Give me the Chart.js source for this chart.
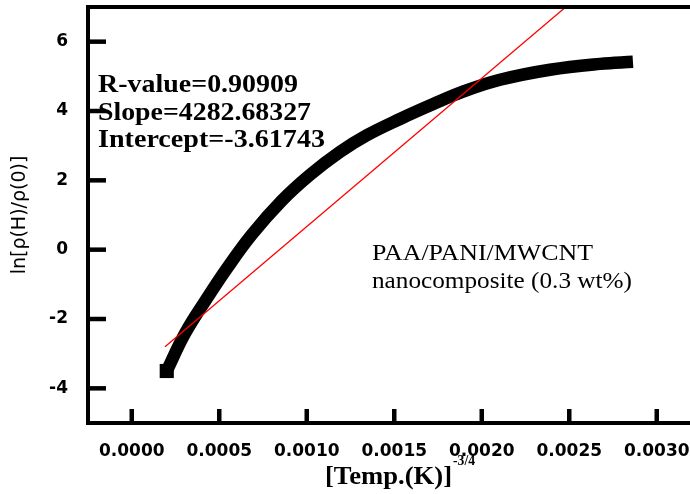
<!DOCTYPE html>
<html><head><meta charset="utf-8">
<style>html,body{margin:0;padding:0;background:#fff;overflow:hidden}</style>
<script src="https://cdn.jsdelivr.net/npm/chart.js@4.4.0/dist/chart.umd.min.js"></script>
</head><body>
<canvas id="c" width="690" height="494"></canvas>
<script>
// measured curve: ln[rho(H)/rho(0)] vs T^-3/4
const curveX = [0.000200, 0.000304, 0.000424, 0.000544, 0.000687, 0.000859, 0.001019, 0.001190, 0.001343, 0.001533, 0.001723, 0.001900, 0.002104, 0.002390, 0.002676, 0.002864];
const curveY = [-3.50, -2.42, -1.45, -0.54, 0.44, 1.42, 2.16, 2.82, 3.30, 3.77, 4.20, 4.57, 4.90, 5.19, 5.36, 5.42];
// linear fit line (end points)
const fitX = [0.00019, 0.00248];
const fitY = [-2.80, 7.00];
const xTicks = [0, 0.0005, 0.0010, 0.0015, 0.0020, 0.0025, 0.0030];
const xTickLabels = ['0.0000', '0.0005', '0.0010', '0.0015', '0.0020', '0.0025', '0.0030'];
const yTicks = [-4, -2, 0, 2, 4, 6];
const yTickLabels = ['-4', '-2', '0', '2', '4', '6'];
const fitStats = ['R-value=0.90909', 'Slope=4282.68327', 'Intercept=-3.61743'];
const sampleLabel = ['PAA/PANI/MWCNT', 'nanocomposite (0.3 wt%)'];
const xTitle = '[Temp.(K)]';
const xTitleSup = '-3/4';
const yTitle = 'ln[\u03C1(H)/\u03C1(0)]';

function fitText(ctx, s, x, yb, font, w) {
  ctx.font = font;
  const m = ctx.measureText(s).width;
  ctx.save();
  ctx.translate(x, yb);
  ctx.scale(w / m, 1);
  ctx.textAlign = 'left';
  ctx.textBaseline = 'alphabetic';
  ctx.fillStyle = '#000';
  ctx.fillText(s, 0, 0);
  ctx.restore();
}

const decor = {
  id: 'decor',
  afterDraw(chart) {
    const { ctx, chartArea: a, scales: { x, y } } = chart;
    ctx.save();
    ctx.strokeStyle = '#000';
    ctx.lineCap = 'butt';
    ctx.lineWidth = 4;
    ctx.beginPath(); ctx.moveTo(a.left - 2, a.top); ctx.lineTo(chart.width, a.top); ctx.stroke();
    ctx.lineWidth = 4.5;
    x.ticks.forEach(t => {
      const px = x.getPixelForValue(t.value);
      ctx.beginPath(); ctx.moveTo(px, a.bottom); ctx.lineTo(px, a.bottom - 14); ctx.stroke();
    });
    y.ticks.forEach(t => {
      const py = y.getPixelForValue(t.value);
      ctx.beginPath(); ctx.moveTo(a.left, py); ctx.lineTo(a.left + 18, py); ctx.stroke();
    });
    const bs = 'bold 25px "Liberation Serif"';
    fitText(ctx, fitStats[0], 98, 92, bs, 200);
    fitText(ctx, fitStats[1], 98, 119.5, bs, 213);
    fitText(ctx, fitStats[2], 98, 147, bs, 227);
    const rs = '23px "Liberation Serif"';
    fitText(ctx, sampleLabel[0], 372, 260, rs, 221);
    fitText(ctx, sampleLabel[1], 372, 288, rs, 260);
    fitText(ctx, xTitle, 325, 484, bs, 127);
    fitText(ctx, xTitleSup, 453, 465, 'bold 15px "Liberation Serif"', 22);
    ctx.restore();
  }
};

new Chart(document.getElementById('c'), {
  type: 'scatter',
  data: {
    datasets: [
      {
        label: 'fit',
        data: fitX.map((v, i) => ({ x: v, y: fitY[i] })),
        showLine: true,
        borderColor: '#ff0000',
        borderWidth: 1.3,
        pointRadius: 0,
        order: 0
      },
      {
        label: 'data',
        data: curveX.map((v, i) => ({ x: v, y: curveY[i] })),
        showLine: true,
        borderColor: '#000',
        backgroundColor: '#000',
        borderWidth: 12.5,
        borderCapStyle: 'butt',
        borderJoinStyle: 'round',
        tension: 0.4,
        pointStyle: 'rect',
        pointRadius: c => c.dataIndex === 0 ? 10 : 0,
        pointBorderWidth: 0,
        order: 1
      }
    ]
  },
  options: {
    responsive: false,
    devicePixelRatio: 1,
    animation: false,
    layout: { autoPadding: false, padding: { top: 7, right: 0, left: 0, bottom: 0 } },
    plugins: { legend: { display: false }, tooltip: { enabled: false } },
    scales: {
      x: {
        type: 'linear',
        min: -0.00025,
        max: 0.00319,
        afterBuildTicks: s => { s.ticks = xTicks.map(v => ({ value: v })); },
        afterFit: s => { s.height = 71; s.paddingLeft = 0; s.paddingRight = 0; },
        grid: { display: false, drawTicks: false },
        border: { display: true, width: 4, color: '#000' },
        ticks: {
          padding: 18,
          color: '#000',
          maxRotation: 0,
          autoSkip: false,
          font: { family: 'DejaVu Sans', weight: 'bold', size: 17 },
          callback: v => { const i = xTicks.findIndex(t => Math.abs(t - v) < 1e-9); return i >= 0 ? xTickLabels[i] : ''; }
        }
      },
      y: {
        type: 'linear',
        min: -5,
        max: 7,
        afterBuildTicks: s => { s.ticks = yTicks.map(v => ({ value: v })); },
        afterFit: s => { s.width = 88; s.paddingTop = 0; s.paddingBottom = 0; },
        grid: { display: false, drawTicks: false },
        border: { display: true, width: 4, color: '#000' },
        title: {
          display: true,
          text: yTitle,
          color: '#000',
          padding: { top: 9, bottom: 0 },
          font: { family: 'DejaVu Sans', size: 19 }
        },
        ticks: {
          padding: 20,
          color: '#000',
          autoSkip: false,
          font: { family: 'DejaVu Sans', weight: 'bold', size: 17 },
          callback: v => { const i = yTicks.indexOf(v); return i >= 0 ? yTickLabels[i] : ''; }
        }
      }
    }
  },
  plugins: [decor]
});
</script>
</body></html>
